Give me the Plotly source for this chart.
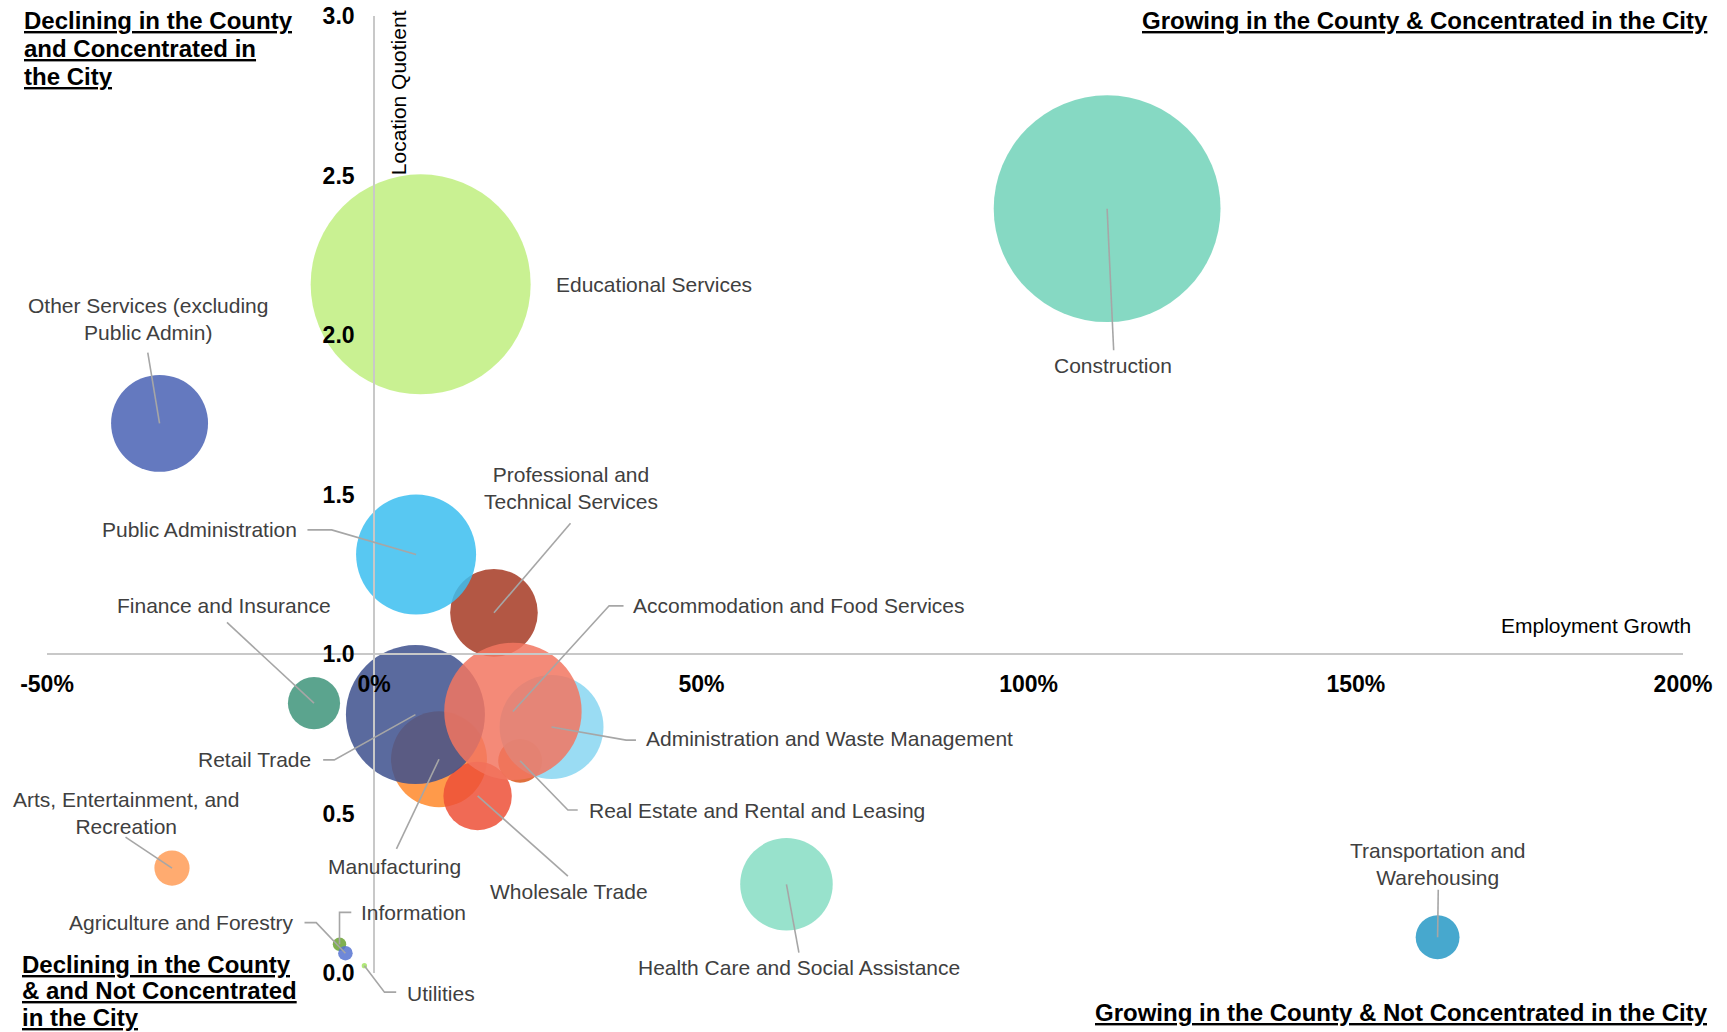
import plotly.graph_objects as go

# ---- data -------------------------------------------------------------
industries = [
    "Information", "Agriculture and Forestry", "Utilities", "Construction",
    "Manufacturing", "Wholesale Trade", "Retail Trade",
    "Transportation and Warehousing", "Finance and Insurance",
    "Real Estate and Rental and Leasing", "Professional and Technical Services",
    "Administration and Waste Management", "Educational Services",
    "Health Care and Social Assistance", "Arts, Entertainment, and Recreation",
    "Accommodation and Food Services", "Other Services (excluding Public Admin)",
    "Public Administration",
]
employment_growth = [-5.3, -4.4, -1.5, 112.0, 9.9, 15.8, 6.3, 162.5, -9.2,
                     22.3, 18.3, 27.1, 7.1, 63.0, -30.9, 21.2, -32.8, 6.4]
location_quotient = [0.090, 0.062, 0.023, 2.396, 0.670, 0.555, 0.810, 0.112, 0.846,
                     0.665, 1.129, 0.771, 2.159, 0.278, 0.329, 0.820, 1.723, 1.312]
employment = [45, 53, 7, 12860, 2300, 1170, 4830, 480, 680,
              480, 1920, 2700, 12100, 2140, 310, 4720, 2350, 3600]

x_ticks = [-50, 0, 50, 100, 150, 200]
x_tick_labels = ["-50%", "0%", "50%", "100%", "150%", "200%"]
y_ticks = [0.0, 0.5, 1.0, 1.5, 2.0, 2.5, 3.0]
y_tick_labels = ["0.0", "0.5", "1.0", "1.5", "2.0", "2.5", "3.0"]

# ---- styling ----------------------------------------------------------
X_RANGE = [-50, 200]
Y_RANGE = [0, 3]
FONT = "Liberation Sans, Arial, sans-serif"
LABEL_COLOR = "#404040"
LEADER_COLOR = "#a6a6a6"
AXIS_COLOR = "#c8c8c8"

colors = {
    "Information": "rgb(106,162,49)",
    "Agriculture and Forestry": "rgb(86,115,209)",
    "Utilities": "rgb(162,228,96)",
    "Construction": "rgb(113,210,184)",
    "Manufacturing": "rgb(255,136,42)",
    "Wholesale Trade": "rgb(237,80,55)",
    "Retail Trade": "rgb(61,80,141)",
    "Transportation and Warehousing": "rgb(39,153,198)",
    "Finance and Insurance": "rgb(62,148,122)",
    "Real Estate and Rental and Leasing": "rgb(218,87,28)",
    "Professional and Technical Services": "rgb(166,57,35)",
    "Administration and Waste Management": "rgb(136,214,241)",
    "Educational Services": "rgb(191,238,127)",
    "Health Care and Social Assistance": "rgb(134,221,195)",
    "Arts, Entertainment, and Recreation": "rgb(255,156,87)",
    "Accommodation and Food Services": "rgb(242,117,96)",
    "Other Services (excluding Public Admin)": "rgb(73,97,180)",
    "Public Administration": "rgb(59,190,240)",
}

# label text, anchor point (axis units), horizontal anchor, leader bend points
labels = {
    "Information": ("Information", (-2.3, 0.191), "left", [(-3.5, 0.190), (-5.3, 0.190)]),
    "Agriculture and Forestry": ("Agriculture and Forestry", (-11.9, 0.157), "right",
                                 [(-10.65, 0.158), (-8.86, 0.158)]),
    "Utilities": ("Utilities", (4.7, -0.064), "left", [(3.36, -0.060), (1.57, -0.060)]),
    "Construction": ("Construction", (112.9, 1.903), "center", [(113.0, 1.952)]),
    "Manufacturing": ("Manufacturing", (3.1, 0.333), "center", [(3.4, 0.389)]),
    "Wholesale Trade": ("Wholesale Trade", (29.7, 0.257), "center", [(29.6, 0.304)]),
    "Retail Trade": ("Retail Trade", (-9.37, 0.668), "right", [(-7.8, 0.668), (-6.1, 0.668)]),
    "Transportation and Warehousing": ("Transportation and<br>Warehousing", (162.6, 0.343),
                                       "center", [(162.6, 0.261)]),
    "Finance and Insurance": ("Finance and Insurance", (-23.0, 1.151), "center", [(-22.5, 1.099)]),
    "Real Estate and Rental and Leasing": ("Real Estate and Rental and Leasing", (32.5, 0.509),
                                           "left", [(31.1, 0.511), (29.6, 0.511)]),
    "Professional and Technical Services": ("Professional and<br>Technical Services",
                                            (30.0, 1.521), "center", [(30.0, 1.410)]),
    "Administration and Waste Management": ("Administration and Waste Management",
                                            (41.3, 0.734), "left", [(40.0, 0.730), (38.5, 0.730)]),
    "Educational Services": ("Educational Services", (27.4, 2.159), "left", []),
    "Health Care and Social Assistance": ("Health Care and Social Assistance", (64.9, 0.016),
                                          "center", [(64.9, 0.064)]),
    "Arts, Entertainment, and Recreation": ("Arts, Entertainment, and<br>Recreation",
                                            (-38.0, 0.502), "center", [(-38.0, 0.426)]),
    "Accommodation and Food Services": ("Accommodation and Food Services", (39.3, 1.151),
                                        "left", [(38.1, 1.151), (35.9, 1.151)]),
    "Other Services (excluding Public Admin)": ("Other Services (excluding<br>Public Admin)",
                                                (-34.6, 2.050), "center", [(-34.6, 1.945)]),
    "Public Administration": ("Public Administration", (-11.55, 1.389), "right",
                              [(-10.2, 1.389), (-6.5, 1.389)]),
}


def to_paper(x, y):
    """Map axis units onto paper fractions (the axes span the full domain)."""
    return ((x - X_RANGE[0]) / (X_RANGE[1] - X_RANGE[0]),
            (y - Y_RANGE[0]) / (Y_RANGE[1] - Y_RANGE[0]))


fig = go.Figure()

for name, gx, lq, emp in zip(industries, employment_growth, location_quotient, employment):
    fig.add_trace(go.Scatter(
        x=[gx], y=[lq], mode="markers", name=name,
        marker=dict(size=[emp], sizemode="area", sizeref=0.5, sizemin=0,
                    color=colors[name], opacity=0.85, line=dict(width=0)),
        hovertemplate=f"{name}<br>Growth: %{{x:.1f}}%<br>LQ: %{{y:.2f}}<extra></extra>",
        cliponaxis=False,
    ))

annotations = []
shapes = []
for name, gx, lq in zip(industries, employment_growth, location_quotient):
    text, (lx, ly), xanchor, bends = labels[name]
    px, py = to_paper(lx, ly)
    annotations.append(dict(
        x=px, y=py, xref="paper", yref="paper", text=text, showarrow=False,
        xanchor=xanchor, yanchor="middle", align="center",
        font=dict(family=FONT, size=21, color=LABEL_COLOR),
    ))
    if bends:
        pts = [to_paper(bx, by) for bx, by in bends] + [to_paper(gx, lq)]
        path = "M " + " L ".join(f"{qx:.5f},{qy:.5f}" for qx, qy in pts)
        shapes.append(dict(type="path", path=path, xref="paper", yref="paper",
                           line=dict(color=LEADER_COLOR, width=1.6), layer="above"))

# quadrant captions (one annotation per line for tight leading)
quad_font = dict(family=FONT, size=24, color="black")
quadrants = [
    (["Declining in the County", "and Concentrated in", "the City"], -0.0155, [0.9948, 0.9659, 0.9373], "left"),
    (["Growing in the County & Concentrated in the City"], 1.0165, [0.9948], "right"),
    (["Declining in the County", "& and Not Concentrated", "in the City"], -0.0165, [0.0094, -0.0183, -0.0465], "left"),
    (["Growing in the County & Not Concentrated in the City"], 1.0165, [-0.0408], "right"),
]
for lines, qx, qys, qanchor in quadrants:
    for line, qy in zip(lines, qys):
        annotations.append(dict(
            x=qx, y=qy, xref="paper", yref="paper", text=f"<b><u>{line}</u></b>",
            showarrow=False, xanchor=qanchor, yanchor="middle", font=quad_font,
        ))

# axis titles placed beside the crossing axes
annotations.append(dict(
    x=0.2149, y=0.920, xref="paper", yref="paper", text="Location Quotient",
    textangle=-90, showarrow=False, xanchor="center", yanchor="middle",
    font=dict(family=FONT, size=21, color="black"),
))
annotations.append(dict(
    x=1.006, y=0.3636, xref="paper", yref="paper", text="Employment Growth",
    showarrow=False, xanchor="right", yanchor="middle",
    font=dict(family=FONT, size=21, color="black"),
))

tick_font = dict(family=FONT, size=23, color="black", weight="bold")

fig.update_layout(
    width=1727, height=1032,
    margin=dict(l=47, r=44, t=16, b=59, autoexpand=False),
    paper_bgcolor="white", plot_bgcolor="white",
    showlegend=False,
    xaxis=dict(
        range=X_RANGE, tickmode="array", tickvals=x_ticks, ticktext=x_tick_labels,
        showline=True, linecolor=AXIS_COLOR, linewidth=2,
        showgrid=False, zeroline=False, ticks="", automargin=False,
        anchor="free", position=to_paper(0, 1)[1],
        tickfont=tick_font, ticklabelstandoff=9,
    ),
    yaxis=dict(
        range=Y_RANGE, tickmode="array", tickvals=y_ticks, ticktext=y_tick_labels,
        showline=True, linecolor=AXIS_COLOR, linewidth=2,
        showgrid=False, zeroline=False, ticks="", automargin=False,
        anchor="free", position=to_paper(0, 1)[0],
        tickfont=tick_font, ticklabelstandoff=14,
    ),
    annotations=annotations,
    shapes=shapes,
    font=dict(family=FONT),
)

fig.write_html("out.html")
